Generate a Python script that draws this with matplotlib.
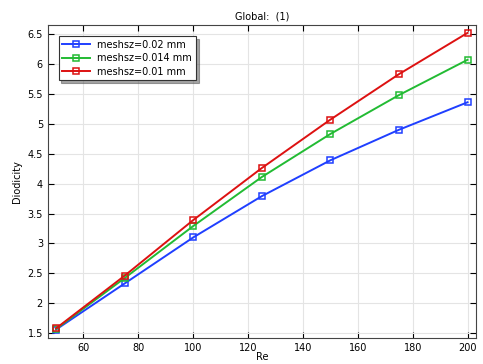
import numpy as np
import matplotlib.pyplot as plt

re = [50, 75, 100, 125, 150, 175, 200]
d_002 = [1.56, 2.33, 3.10, 3.79, 4.39, 4.90, 5.36]
d_0014 = [1.57, 2.42, 3.29, 4.11, 4.83, 5.48, 6.07]
d_001 = [1.58, 2.46, 3.39, 4.26, 5.07, 5.83, 6.52]
labels = ['meshsz=0.02 mm', 'meshsz=0.014 mm', 'meshsz=0.01 mm']
colors = ['#1f3fff', '#22bb33', '#dd1111']

fig = plt.figure(figsize=(4.83, 3.64), dpi=100)
ax = fig.add_axes([0.099, 0.071, 0.886, 0.86])

for y, lab, c in zip([d_002, d_0014, d_001], labels, colors):
    ax.plot(re, y, '-', color=c, lw=1.4, marker='s', markersize=5,
            markerfacecolor='none', markeredgewidth=1.1, label=lab)

ax.set_xlim(47, 203)
ax.set_ylim(1.416, 6.65)
ax.set_xticks(np.arange(60, 201, 20))
ax.set_yticks(np.arange(1.5, 6.51, 0.5))
ax.set_yticklabels(['1.5', '2', '2.5', '3', '3.5', '4', '4.5', '5', '5.5', '6', '6.5'])
ax.grid(True, color='#e4e4e4', lw=0.8)
ax.tick_params(direction='in', top=True, right=True, labelsize=7, length=4, width=0.8)
for s in ax.spines.values():
    s.set_color('#444444')
ax.set_xlabel('Re', fontsize=7, labelpad=-1)
ax.set_ylabel('Diodicity', fontsize=7)
ax.set_title('Global:  (1)', fontsize=7, pad=4)

leg = ax.legend(loc='upper left', fontsize=7, fancybox=False, shadow=True,
                edgecolor='#333333', borderaxespad=1.1, handlelength=2.8,
                markerscale=0.8, labelspacing=0.35)
leg.get_frame().set_linewidth(0.8)

fig.savefig('out.png', dpi=100)
